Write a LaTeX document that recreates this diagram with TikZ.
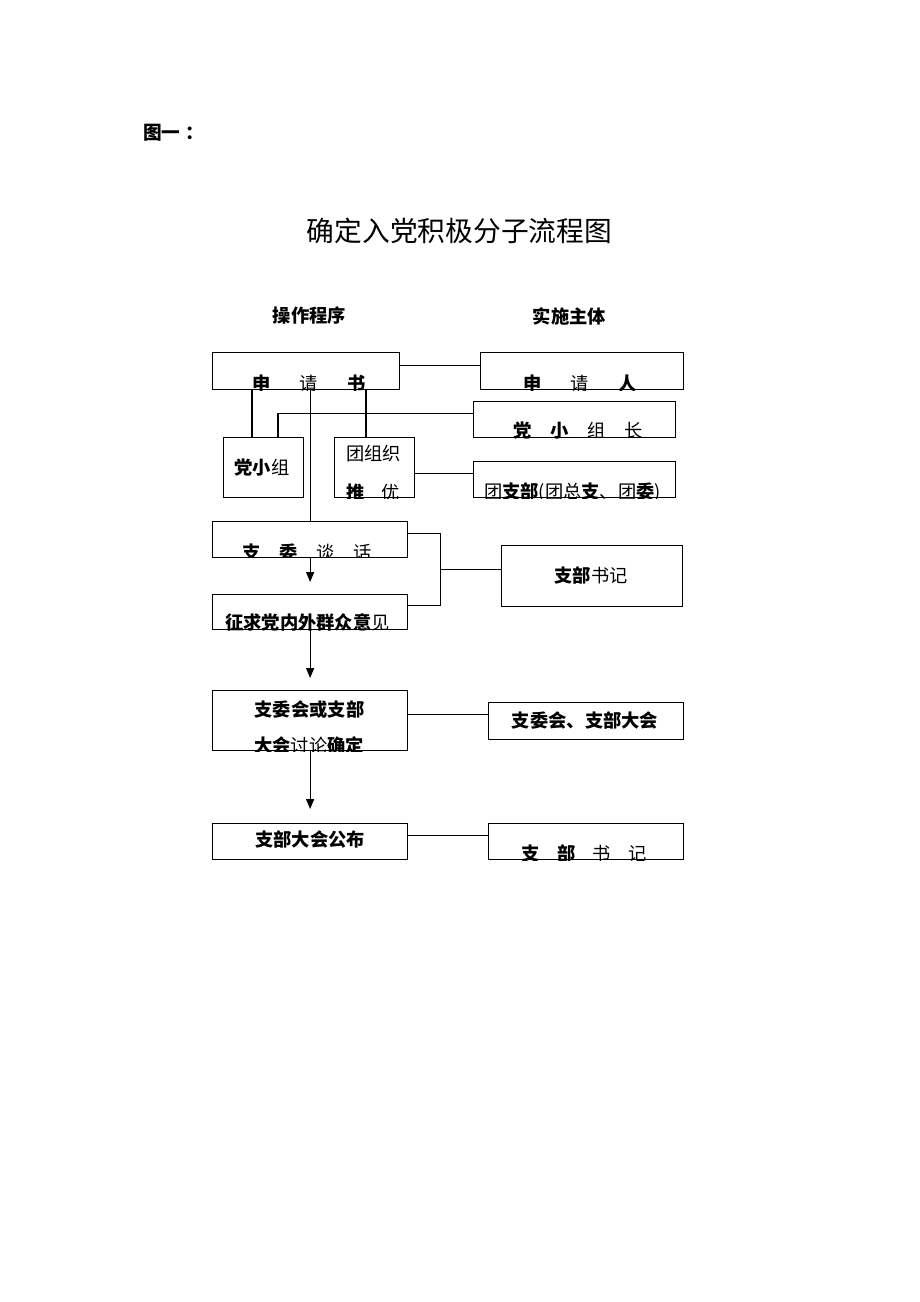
\documentclass[tikz,border=0pt]{standalone}
\usepackage{fontspec}
\setmainfont{Noto Sans CJK SC}
\usetikzlibrary{arrows.meta,calc}
\newcommand\gapA{\hspace{22pt}}
\newcommand\gapB{\hspace{14pt}}
\newcommand\gapC{\hspace{12.5pt}}
\newcommand\gapD{\hspace{13pt}}
\begin{document}
\begin{tikzpicture}[x=0.75pt,y=-0.75pt,
  box/.style={draw,line width=0.9pt,inner sep=0pt,anchor=north west},
  sz/.style 2 args={minimum width=#1*0.75pt,minimum height=#2*0.75pt},
  lbl/.style={inner sep=0pt,font=\fontsize{13.7pt}{16pt}\selectfont},
  conn/.style={line width=0.9pt},
  arr/.style={line width=0.9pt,-{Triangle[width=6pt,length=7.5pt]}}]

\useasboundingbox (0,0) rectangle (920,1302);

% headings
\node[inner sep=0pt,anchor=west,font=\fontsize{14pt}{16pt}\selectfont\bfseries] (fig) at (143,133) {图一\hspace{4pt}：};
\node[inner sep=0pt,font=\fontsize{20.8pt}{24pt}\selectfont] (title) at (459.5,231) {确定入党积极分子流程图};
\node[lbl,font=\fontsize{13.7pt}{16pt}\selectfont\bfseries] (h1) at (309.5,316) {操作程序};
\node[lbl,font=\fontsize{13.7pt}{16pt}\selectfont\bfseries] (h2) at (569.5,316) {实施主体};

% boxes
\node[box,sz={187}{37}] (sqs) at (212,352) {};
\node[box,sz={203}{37}] (sqr) at (479.5,352) {};
\node[box,sz={202}{36}] (xzz) at (473,401) {};
\node[box,sz={80}{60}] (dxz) at (222.5,437) {};
\node[box,sz={80}{60}] (tzz) at (333.5,437) {};
\node[box,sz={202}{36}] (tzb) at (473,461) {};
\node[box,sz={195}{35.5}] (zwth) at (212,521) {};
\node[box,sz={195}{35.5}] (zqyj) at (212,593.5) {};
\node[box,sz={181}{61}] (sj1) at (501,544.5) {};
\node[box,sz={195}{60.5}] (tlqd) at (212,689.5) {};
\node[box,sz={195}{36.5}] (zwdh) at (487.5,702) {};
\node[box,sz={195}{36.5}] (gb) at (212,822.5) {};
\node[box,sz={195}{36.5}] (sj2) at (487.5,822.5) {};

% texts (clipped by their boxes, as printed)
\begin{scope}\clip (sqs.north west) rectangle (sqs.south east);
\node[lbl] (sqs-t) at (309,383.5) {\textbf{申}\gapA 请\gapA\textbf{书}};
\end{scope}
\begin{scope}\clip (sqr.north west) rectangle (sqr.south east);
\node[lbl] (sqr-t) at (580,383.5) {\textbf{申}\gapA 请\gapA\textbf{人}};
\end{scope}
\begin{scope}\clip (xzz.north west) rectangle (xzz.south east);
\node[lbl] (xzz-t) at (578,430.5) {\textbf{党}\gapB\textbf{小}\gapB 组\gapB 长};
\end{scope}
\begin{scope}\clip (tzb.north west) rectangle (tzb.south east);
\node[lbl] (tzb-t) at (572.5,492.5) {团\textbf{支部}(团总\textbf{支}、团\textbf{委})};
\end{scope}
\begin{scope}\clip (tzz.north west) rectangle (tzz.south east);
\node[lbl] (tzz-t1) at (373.5,454) {团组织};
\node[lbl] (tzz-t2) at (373,492.5) {\textbf{推}\gapC 优};
\end{scope}
\node[lbl] (dxz-t) at (262,468) {\textbf{党小}组};
\begin{scope}\clip (zwth.north west) rectangle (zwth.south east);
\node[lbl] (zwth-t) at (307.5,552.5) {\textbf{支}\gapB\textbf{委}\gapB 谈\gapB 话};
\end{scope}
\begin{scope}\clip (zqyj.north west) rectangle (zqyj.south east);
\node[lbl] (zqyj-t) at (307.5,622) {\textbf{征求党内外群众意}见};
\end{scope}
\node[lbl] (sj1-t) at (591,575) {\textbf{支部}书记};
\begin{scope}\clip (tlqd.north west) rectangle (tlqd.south east);
\node[lbl] (tlqd-t1) at (309.5,710) {\textbf{支委会或支部}};
\node[lbl] (tlqd-t2) at (309,745.5) {\textbf{大会}讨论\textbf{确定}};
\end{scope}
\node[lbl] (zwdh-t) at (585,720) {\textbf{支委会、支部大会}};
\node[lbl] (gb-t) at (310,840) {\textbf{支部大会公布}};
\begin{scope}\clip (sj2.north west) rectangle (sj2.south east);
\node[lbl] (sj2-t) at (584,853.5) {\textbf{支}\gapD\textbf{部}\gapD 书\gapD 记};
\end{scope}

% connectors
\draw[conn] ($(sqs.east)+(0,-6)$) -- ($(sqr.west)+(0,-6)$);
\draw[conn] ($(dxz.north west)+(29.5,0)$) coordinate (v1) -- (v1 |- sqs.south);
\draw[conn] (sqs.south -| zwth.north) -- (zwth.north);
\draw[conn] ($(tzz.north west)+(32.5,0)$) coordinate (v3) -- (v3 |- sqs.south);
\draw[conn] ($(xzz.west)+(0,-6)$) -| ($(dxz.north west)+(55.5,0)$);
\draw[conn] ($(tzb.west)+(0,-6)$) coordinate (h3) -- (h3 -| tzz.east);
\draw[arr] (zwth.south) -- ($(zqyj.north)+(0,-11.5)$);
\draw[arr] (zqyj.south) -- ($(tlqd.north)+(0,-11.5)$);
\draw[arr] (tlqd.south) -- ($(gb.north)+(0,-13.5)$);
\draw[conn] ($(zwth.east)+(0,-6)$) -- ++(32,0) coordinate (br) |- ($(zqyj.east)+(0,-6)$);
\draw[conn] ($(sj1.west)+(0,-6)$) coordinate (h5) -- (h5 -| br);
\draw[conn] ($(zwdh.west)+(0,-6)$) coordinate (h6) -- (h6 -| tlqd.east);
\draw[conn] ($(gb.east)+(0,-6)$) -- ($(sj2.west)+(0,-6)$);
\end{tikzpicture}
\end{document}
